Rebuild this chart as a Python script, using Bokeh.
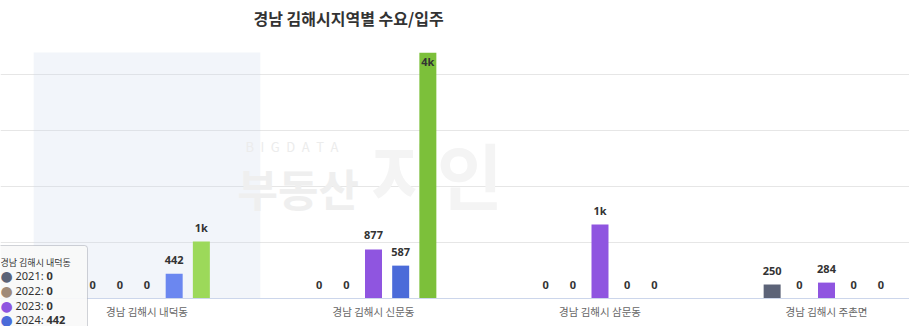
from bokeh.plotting import figure
from bokeh.models import Range1d, FixedTicker, Grid, BoxAnnotation, Label, ColumnDataSource, Span
from bokeh.transform import dodge
from bokeh.core.properties import value
from bokeh.embed import file_html
from bokeh.resources import INLINE

# ---------------- data ----------------
title_text = "경남 김해시지역별 수요/입주"
categories = ["경남 김해시 내덕동", "경남 김해시 신문동", "경남 김해시 삼문동", "경남 김해시 주촌면"]
series_names = ["2021", "2022", "2023", "2024", "2025"]
y2021 = [0, 0, 0, 250]
y2022 = [0, 0, 0, 0]
y2023 = [0, 877, 1320, 284]
y2024 = [442, 587, 0, 0]
y2025 = [1020, 4390, 0, 0]
series_values = [y2021, y2022, y2023, y2024, y2025]
grid_ticks = [1000, 2000, 3000, 4000]
hovered_index = 0  # category under the (shown) tooltip

# ---------------- style ----------------
colors = ["#5c6378", "#a08a78", "#8f55e0", "#4b6bd9", "#7cc03a"]
hover_colors = ["#6c7590", "#b49c8a", "#a06cf0", "#6b87f0", "#9cd95a"]
FONT = "Noto Sans CJK KR"
W, H = 909, 326
BASE_PX = 298          # pixel row of the value 0
PX_PER_1000 = 56
PLOT_TOP = 4393        # value at the top of the plot area
X0 = -0.6468
X1 = X0 + W / 226.5
STEP = 0.12
BAR_W = 0.075
Y0 = -(H - BASE_PX) / PX_PER_1000 * 1000
Y1 = BASE_PX / PX_PER_1000 * 1000

p = figure(width=W, height=H, output_backend="svg", toolbar_location=None,
           x_range=Range1d(X0, X1), y_range=Range1d(Y0, Y1),
           x_axis_location=None, y_axis_location=None,
           min_border=0,
           background_fill_color="white", border_fill_color="white",
           outline_line_color=None)
p.xgrid.visible = False
p.ygrid.visible = False
p.add_layout(Grid(dimension=1, ticker=FixedTicker(ticks=grid_ticks),
                  grid_line_color="#e6e6e6", grid_line_width=1))

# hover band
p.add_layout(BoxAnnotation(left=hovered_index - 0.5, right=hovered_index + 0.5,
                           top=PLOT_TOP, bottom=0,
                           fill_color="#ccd6eb", fill_alpha=0.25, line_color=None,
                           level="underlay"))

# watermark
sp = "\u2002"
p.add_layout(Label(x=245, y=H - 146, x_units="screen", y_units="screen", text=sp.join("BIGDATA"),
                   text_font=FONT, text_font_size="13px", text_color="#ececec",
                   text_baseline="middle", level="underlay"))
p.add_layout(Label(x=237, y=H - 187, x_units="screen", y_units="screen", text="부동산",
                   text_font=FONT, text_font_size="44px", text_font_style="bold", text_color="#efefef",
                   text_baseline="middle", level="underlay"))
p.add_layout(Label(x=370, y=H - 172, x_units="screen", y_units="screen", text="지인",
                   text_font=FONT, text_font_size="72px", text_font_style="bold", text_color="#f4f4f4",
                   text_baseline="middle", level="underlay"))

# x axis (line at 0 + category labels)
xs = list(range(len(categories)))
p.add_layout(Span(location=0, dimension="width", line_color="#ccd6eb", line_width=1))
cat_src = ColumnDataSource(dict(x=xs, y=[0] * len(xs), label=categories))
p.text(x="x", y="y", text="label", source=cat_src, y_offset=13,
       text_align="center", text_baseline="middle", text_font=value(FONT),
       text_font_size="10.5px", text_color="#666666")

# bars + labels
for k, (name, vals) in enumerate(zip(series_names, series_values)):
    off = (k - 2) * STEP
    cols = [hover_colors[k] if i == hovered_index else colors[k] for i in xs]
    labels = [f"{int(v // 1000)}k" if v >= 1000 else str(v) for v in vals]
    inside = [v > PLOT_TOP * 0.97 for v in vals]
    ly = [min(v, PLOT_TOP) for v in vals]
    lyoff = [9 if ins else -14 for ins in inside]
    src = ColumnDataSource(dict(x=xs, top=vals, color=cols, label=labels, ly=ly, lyoff=lyoff))
    p.vbar(x=dodge("x", off), top="top", width=BAR_W, fill_color="color", line_color=None, source=src)
    p.text(x=dodge("x", off), y="ly", text="label", y_offset="lyoff", source=src,
           text_align="center", text_baseline="alphabetic", text_font=value("Noto Sans"),
           text_font_size="11px", text_font_style="bold", text_color="#333333")

# title
p.add_layout(Label(x=253, y=H - 17, x_units="screen", y_units="screen", text=title_text,
                   text_font=FONT, text_font_size="16px", text_font_style="bold",
                   text_color="#333333", text_baseline="middle"))

# tooltip (shared, for hovered category)
p.add_layout(BoxAnnotation(left=-6, right=87, top=H - 245, bottom=-10,
                           left_units="screen", right_units="screen",
                           top_units="screen", bottom_units="screen",
                           fill_color="#f9f9f9", fill_alpha=0.92,
                           line_color="#6b7080", line_width=1, border_radius=3))
p.add_layout(Label(x=0, y=H - 262, x_units="screen", y_units="screen", text=categories[hovered_index],
                   text_font=FONT, text_font_size="9px", text_color="#333333", text_baseline="middle"))
row_y = [275, 290, 305, 319]
for k in range(4):
    yy = H - row_y[k]
    p.add_layout(Label(x=6, y=yy, x_units="screen", y_units="screen", text="●",
                       text_font="DejaVu Sans", text_font_size="14px", text_color=colors[k],
                       text_align="center", text_baseline="middle"))
    p.add_layout(Label(x=15, y=yy, x_units="screen", y_units="screen", text=f"{series_names[k]}:",
                       text_font="Noto Sans", text_font_size="11px", text_color="#333333",
                       text_baseline="middle"))
    p.add_layout(Label(x=46, y=yy, x_units="screen", y_units="screen",
                       text=str(series_values[k][hovered_index]),
                       text_font="Noto Sans", text_font_size="11px", text_font_style="bold",
                       text_color="#333333", text_baseline="middle"))

open("out.html", "w").write(file_html(p, INLINE))
